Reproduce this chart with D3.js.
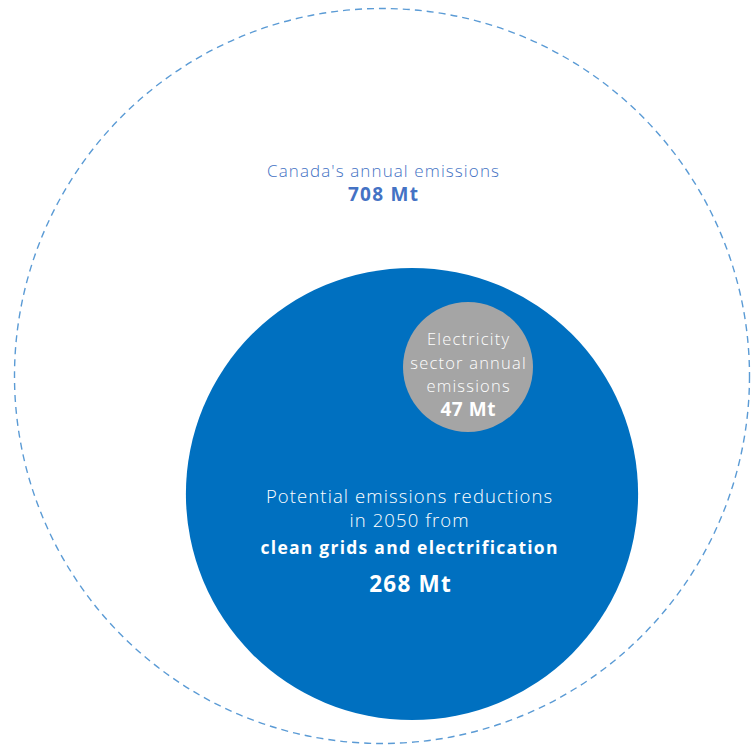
<!DOCTYPE html>
<html>
<head>
<meta charset="utf-8">
<script src="https://cdn.jsdelivr.net/npm/d3@7"></script>
<style>
  html, body { margin: 0; padding: 0; background: #fff; }
  svg text { font-family: "Open Sans", Lato, sans-serif; }
</style>
</head>
<body>
<svg id="chart" width="751" height="745"></svg>
<script>
// Emission totals (Mt CO2e)
const values = [708, 268, 47];
const labelLines = [
  ["Canada's annual emissions"],
  ["Potential emissions reductions", "in 2050 from"],
  ["Electricity", "sector annual", "emissions"]
];
const boldLines = [[], ["clean grids and electrification"], []];
const valueLabels = values.map(v => v + " Mt");

const svg = d3.select("#chart");

// Area-proportional radius for the national total and the reduction potential
const r = d3.scaleSqrt().domain([0, 708]).range([0, 367.5]);
// Sector bubble drawn at its own detail scale
const rSector = d3.scaleSqrt().domain([0, 47]).range([0, 65]);

const outer = { cx: 382, cy: 376, r: r(values[0]) };
const blue  = { cx: 412, cy: 494, r: r(values[1]) };
const grey  = { cx: 468, cy: 367, r: rSector(values[2]) };

svg.append("circle")
  .attr("cx", outer.cx).attr("cy", outer.cy).attr("r", outer.r)
  .attr("fill", "none")
  .attr("stroke", "#5b9bd5")
  .attr("stroke-width", 1.4)
  .attr("stroke-dasharray", "7 5");

svg.append("circle")
  .attr("cx", blue.cx).attr("cy", blue.cy).attr("r", blue.r)
  .attr("fill", "#0070c0");

svg.append("circle")
  .attr("cx", grey.cx).attr("cy", grey.cy).attr("r", grey.r)
  .attr("fill", "#a5a5a5");

// Centred text with letter spacing (trailing gap compensated)
function label(g, x, y, txt, size, weight, spacing) {
  g.append("text")
    .attr("x", x + spacing / 2).attr("y", y)
    .attr("font-size", size)
    .attr("font-weight", weight)
    .attr("letter-spacing", spacing)
    .text(txt);
}

// Outer label
const tOuter = svg.append("g").attr("text-anchor", "middle").attr("fill", "#4472c4");
label(tOuter, 383, 177, labelLines[0][0], 17, 300, 1.1);
label(tOuter, 383, 201, valueLabels[0], 19, "bold", 1.3);

// Reduction label
const tBlue = svg.append("g").attr("text-anchor", "middle").attr("fill", "#fff");
label(tBlue, 409, 503, labelLines[1][0], 18.5, 300, 1.1);
label(tBlue, 409, 527, labelLines[1][1], 18.5, 300, 1.1);
label(tBlue, 409, 554, boldLines[1][0], 17.5, "bold", 1.25);
label(tBlue, 410, 592, valueLabels[1], 22.5, "bold", 1.2);

// Sector label
const tGrey = svg.append("g").attr("text-anchor", "middle").attr("fill", "#fff");
labelLines[2].forEach((line, i) => {
  label(tGrey, 468, 345 + i * 23.5, line, 16.5, 300, 1.2);
});
label(tGrey, 468, 416, valueLabels[2], 19, "bold", 0.6);
</script>
</body>
</html>
